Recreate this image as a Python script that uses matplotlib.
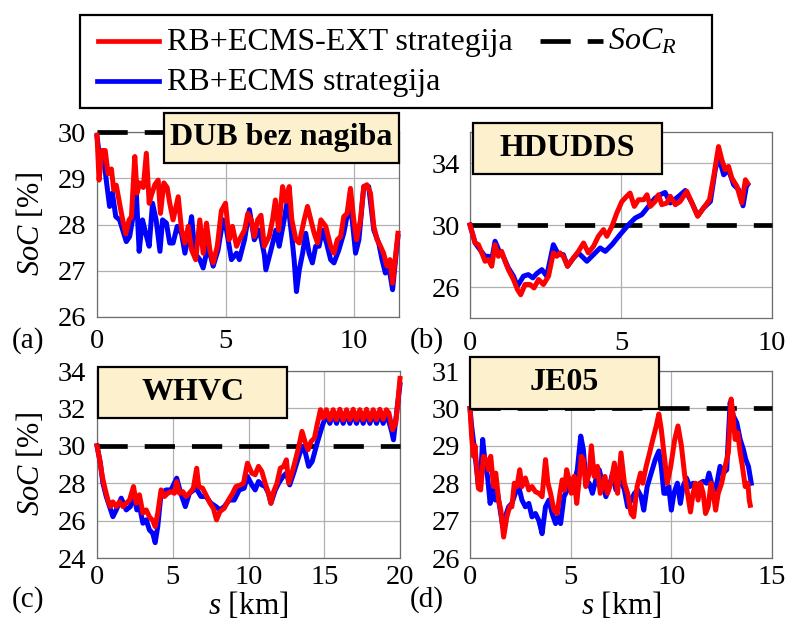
import matplotlib
matplotlib.use("Agg")
import matplotlib.pyplot as plt
from matplotlib.patches import Rectangle
from matplotlib.lines import Line2D

plt.rcParams["font.family"] = "Liberation Serif"
plt.rcParams["mathtext.fontset"] = "custom"
plt.rcParams["mathtext.rm"] = "Liberation Serif"
plt.rcParams["mathtext.it"] = "Liberation Serif:italic"
plt.rcParams["mathtext.bf"] = "Liberation Serif:bold"

# ---- data (s in km, SoC in %) ----
soc_ref = 30

# (a) DUB bez nagiba
dub_s_ext = [0, 0.08, 0.2, 0.32, 0.43, 0.56, 0.65, 0.75, 0.88, 1.0, 1.12, 1.25, 1.34, 1.47, 1.56,
             1.66, 1.8, 1.92, 2.03, 2.12, 2.25, 2.38, 2.47, 2.6, 2.73, 2.83, 2.96, 3.16, 3.29, 3.42,
             3.55, 3.68, 3.84, 4.0, 4.13, 4.26, 4.39, 4.52, 4.68, 4.84, 5.0, 5.14, 5.27, 5.43, 5.54,
             5.74, 5.87, 6.0, 6.12, 6.25, 6.38, 6.51, 6.7, 6.83, 6.94, 7.07, 7.22, 7.35, 7.48, 7.58,
             7.74, 7.87, 8.06, 8.19, 8.32, 8.45, 8.58, 8.71, 8.9, 9.09, 9.22, 9.35, 9.48, 9.6, 9.73,
             9.86, 9.99, 10.1, 10.25, 10.38, 10.5, 10.64, 10.77, 10.9, 11.03, 11.15, 11.28, 11.4,
             11.5, 11.6, 11.71]
dub_soc_ext = [29.93, 28.96, 29.6, 29.6, 29.1, 29.2, 28.75, 28.85, 28.45, 28.1, 27.8, 28.1, 28.17,
               29.47, 28.68, 28.9, 28.8, 29.54, 28.46, 28.64, 28.86, 28.96, 28.24, 28.9, 28.8, 28.46,
               28.1, 28.6, 27.88, 27.6, 27.96, 27.45, 27.24, 28.1, 27.38, 28.03, 27.45, 27.17, 27.53,
               28.3, 28.46, 27.67, 27.96, 27.53, 27.67, 27.88, 28.24, 28.1, 27.74, 28.1, 28.2, 27.53,
               27.74, 28.1, 28.53, 27.88, 28.82, 28.5, 28.82, 28.1, 27.67, 27.6, 28.1, 28.39, 28.1,
               27.81, 27.6, 28.1, 27.96, 27.53, 27.38, 27.67, 27.74, 28.17, 28.24, 28.78, 28.1, 27.67,
               28.1, 28.82, 28.86, 28.68, 27.96, 27.67, 27.53, 27.38, 27.1, 27.24, 26.73, 27.24, 27.81]
dub_s = [0, 0.1, 0.23, 0.36, 0.49, 0.6, 0.73, 0.88, 1.0, 1.14, 1.27, 1.4, 1.53, 1.64, 1.77, 1.9,
         2.03, 2.16, 2.3, 2.45, 2.55, 2.7, 2.83, 2.96, 3.12, 3.29, 3.42, 3.58, 3.68, 3.81, 4.0, 4.13,
         4.32, 4.52, 4.71, 4.9, 5.04, 5.23, 5.43, 5.54, 5.74, 5.93, 6.12, 6.32, 6.51, 6.57, 6.77,
         6.96, 7.09, 7.28, 7.41, 7.58, 7.67, 7.76, 7.87, 8.0, 8.12, 8.25, 8.38, 8.51, 8.64, 8.77,
         8.93, 9.09, 9.22, 9.41, 9.6, 9.8, 9.93, 10.06, 10.19, 10.38, 10.57, 10.77, 10.96, 11.09,
         11.22, 11.35, 11.5, 11.64, 11.71]
dub_soc = [29.9, 29.47, 29.6, 28.96, 28.39, 28.68, 28.17, 28.1, 27.88, 27.63, 27.74, 28.17, 28.68,
           27.42, 28.1, 27.8, 27.53, 28.46, 28.1, 27.42, 28.1, 28.03, 27.6, 27.6, 27.96, 27.8, 27.38,
           27.8, 28.17, 27.38, 27.24, 27.06, 27.53, 27.1, 27.45, 28.1, 27.88, 27.24, 27.38, 27.24,
           27.67, 28.32, 27.67, 27.88, 27.35, 27.02, 27.45, 27.88, 27.53, 28.1, 28.53, 27.74, 27.24,
           26.55, 27.02, 27.38, 27.81, 27.38, 27.17, 27.53, 27.53, 27.88, 27.6, 27.24, 27.17, 27.45,
           27.81, 28.39, 28.1, 27.38, 27.67, 28.82, 28.82, 27.88, 27.6, 27.24, 26.95, 27.1, 26.59,
           27.38, 27.74]

# (b) HDUDDS
hdu_s_ext = [0, 0.17, 0.28, 0.39, 0.5, 0.61, 0.72, 0.83, 0.94, 1.05, 1.16, 1.27, 1.44, 1.57, 1.68,
             1.82, 1.99, 2.12, 2.27, 2.43, 2.6, 2.76, 2.87, 2.98, 3.09, 3.23, 3.43, 3.59, 3.76, 3.92,
             4.09, 4.25, 4.42, 4.53, 4.7, 4.86, 5.03, 5.19, 5.3, 5.44, 5.58, 5.75, 5.86, 5.97, 6.13,
             6.24, 6.35, 6.52, 6.63, 6.8, 6.96, 7.18, 7.35, 7.54, 7.73, 7.93, 8.07, 8.23, 8.34, 8.45,
             8.56, 8.67, 8.84, 9.0, 9.12, 9.19]
hdu_soc_ext = [30, 28.84, 28.73, 28.2, 27.66, 27.77, 27.34, 28.73, 27.98, 28.3, 27.66, 27.12, 26.48,
               25.84, 25.5, 26.16, 26.16, 25.94, 26.48, 26.16, 26.7, 28.2, 27.98, 28.2, 27.98, 27.34,
               27.88, 28.3, 28.84, 28.2, 28.63, 29.27, 29.7, 29.27, 29.91, 30.77, 31.52, 31.85, 32.06,
               31.2, 31.63, 31.63, 31.95, 31.2, 31.52, 31.95, 31.31, 31.42, 31.85, 31.31, 31.52, 32.17,
               31.42, 30.56, 31.09, 31.63, 33.13, 35.06, 34.2, 33.56, 33.78, 33.03, 32.49, 31.42,
               32.92, 32.7]
hdu_s = [0, 0.17, 0.33, 0.5, 0.61, 0.72, 0.83, 0.97, 1.1, 1.27, 1.44, 1.57, 1.77, 1.93, 2.08, 2.21,
         2.38, 2.54, 2.76, 2.93, 3.09, 3.23, 3.43, 3.59, 3.87, 4.09, 4.31, 4.48, 4.7, 4.97, 5.25,
         5.47, 5.69, 5.91, 6.13, 6.3, 6.46, 6.63, 6.91, 7.13, 7.35, 7.54, 7.73, 7.96, 8.12, 8.23,
         8.4, 8.56, 8.73, 8.9, 9.04, 9.15, 9.19]
hdu_soc = [30, 28.84, 28.41, 27.98, 27.98, 27.77, 28.95, 28.3, 27.98, 27.23, 26.7, 26.05, 26.7, 26.8,
           26.59, 26.87, 27.12, 26.7, 28.73, 28.09, 28.09, 27.34, 27.88, 28.2, 27.66, 28.09, 28.52,
           28.3, 28.73, 29.38, 30.02, 30.45, 30.67, 31.2, 31.74, 31.95, 32.1, 31.42, 31.85, 32.23,
           31.42, 30.6, 31.09, 31.52, 33.56, 34.42, 33.24, 33.56, 32.6, 32.27, 31.24, 32.49, 32.6]

# (c) WHVC
whv_s_ext = [0, 0.18, 0.35, 0.5, 0.72, 0.88, 1.05, 1.27, 1.49, 1.71, 1.93, 2.15, 2.41, 2.59, 2.8,
             3.03, 3.25, 3.46, 3.68, 3.84, 4.01, 4.23, 4.45, 4.67, 4.89, 5.11, 5.26, 5.44, 5.66,
             5.88, 6.1, 6.36, 6.58, 6.71, 6.97, 7.19, 7.46, 7.68, 7.89, 8.11, 8.4, 8.68, 8.95, 9.17,
             9.45, 9.67, 9.93, 10.22, 10.44, 10.66, 10.88, 11.1, 11.32, 11.48, 11.66, 11.88, 12.1,
             12.32, 12.5, 12.65, 12.87, 13.1, 13.32, 13.53, 13.76, 13.93, 14.13, 14.35, 14.53, 14.75,
             14.92, 15.14, 15.37, 15.59, 15.81, 16.03, 16.25, 16.47, 16.69, 16.91, 17.13, 17.35,
             17.57, 17.79, 18.01, 18.23, 18.45, 18.67, 18.89, 19.1, 19.27, 19.5, 19.72, 19.87, 20.0]
whv_soc_ext = [30, 29.25, 28.36, 27.8, 27.1, 26.75, 27.0, 26.75, 27.0, 26.75, 26.93, 27.1, 27.82,
               26.93, 27.38, 26.4, 26.57, 26.2, 26.0, 25.68, 26.4, 27.64, 27.29, 27.46, 27.55, 27.46,
               28.09, 27.46, 27.55, 27.29, 27.46, 27.73, 28.8, 27.82, 27.73, 27.38, 26.93, 26.66,
               26.04, 26.48, 26.66, 27.1, 27.46, 27.82, 27.9, 28.0, 29.07, 28.54, 28.45, 28.9, 28.63,
               28.0, 27.46, 26.93, 27.55, 28.0, 28.8, 28.9, 29.25, 28.0, 28.54, 29.25, 29.96, 30.77,
               30.14, 29.79, 30.23, 30.41, 31.12, 31.93, 31.48, 31.93, 31.39, 31.93, 31.4, 31.95,
               31.38, 31.93, 31.4, 31.95, 31.39, 31.93, 31.4, 31.95, 31.38, 31.93, 31.4, 31.95, 31.42,
               31.93, 31.75, 30.86, 31.21, 32.46, 33.6]
whv_s = [0, 0.22, 0.39, 0.61, 0.83, 1.05, 1.27, 1.6, 1.93, 2.2, 2.41, 2.63, 2.81, 3.03, 3.25, 3.46,
         3.68, 3.84, 4.01, 4.23, 4.56, 4.89, 5.26, 5.53, 5.83, 6.1, 6.54, 6.86, 7.19, 7.52, 7.85,
         8.11, 8.4, 8.73, 9.06, 9.39, 9.71, 9.93, 10.22, 10.44, 10.66, 10.88, 11.1, 11.32, 11.48,
         11.77, 11.99, 12.28, 12.5, 12.72, 12.98, 13.25, 13.53, 13.76, 13.97, 14.2, 14.53, 14.86,
         15.14, 15.37, 15.59, 15.81, 16.03, 16.25, 16.47, 16.69, 16.91, 17.13, 17.35, 17.57, 17.79,
         18.01, 18.23, 18.45, 18.67, 18.89, 19.1, 19.3, 19.45, 19.57, 19.72, 20.0]
whv_soc = [30, 29.07, 28.0, 27.29, 26.75, 26.21, 26.57, 27.2, 26.57, 26.75, 27.46, 26.57, 26.75,
           25.86, 26.04, 25.5, 25.32, 24.82, 25.68, 27.46, 27.64, 27.64, 28.27, 27.46, 26.75, 27.46,
           27.73, 27.29, 27.29, 26.93, 26.75, 26.57, 26.75, 27.1, 27.1, 27.64, 27.73, 28.36, 27.91,
           27.64, 28.09, 27.91, 27.82, 27.46, 26.93, 27.64, 28.0, 28.36, 28.54, 27.91, 28.54, 29.25,
           29.96, 29.61, 28.9, 29.16, 30.14, 31.04, 31.66, 31.2, 31.75, 31.2, 31.75, 31.2, 31.75,
           31.2, 31.75, 31.2, 31.75, 31.2, 31.75, 31.2, 31.75, 31.2, 31.75, 31.2, 31.72, 31.2,
           30.77, 30.32, 31.39, 33.27]

# (d) JE05
je_s_ext = [0, 0.08, 0.17, 0.25, 0.33, 0.42, 0.53, 0.67, 0.8, 0.92, 1.03, 1.17, 1.28, 1.42, 1.53,
            1.67, 1.83, 1.97, 2.08, 2.2, 2.33, 2.47, 2.58, 2.75, 2.92, 3.08, 3.25, 3.42, 3.58, 3.75,
            3.87, 4.0, 4.17, 4.33, 4.47, 4.58, 4.7, 4.8, 4.92, 5.03, 5.17, 5.3, 5.42, 5.53, 5.63,
            5.75, 5.92, 6.03, 6.17, 6.33, 6.47, 6.58, 6.7, 6.83, 7.0, 7.17, 7.33, 7.5, 7.67, 7.83,
            8.0, 8.13, 8.3, 8.47, 8.58, 8.75, 8.92, 9.08, 9.25, 9.38, 9.5, 9.67, 9.8, 9.97, 10.17,
            10.33, 10.5, 10.67, 10.83, 10.95, 11.08, 11.2, 11.33, 11.45, 11.58, 11.7, 11.83, 11.97,
            12.08, 12.2, 12.33, 12.5, 12.67, 12.83, 12.97, 13.05, 13.17, 13.3, 13.42, 13.53, 13.67,
            13.8, 13.87, 13.92]
je_soc_ext = [30, 29.26, 28.72, 29.0, 28.45, 27.86, 27.82, 28.72, 28.63, 28.36, 28.72, 27.91, 28.27,
              27.55, 27.28, 26.56, 27.1, 27.37, 27.37, 28.0, 27.91, 28.36, 27.91, 28.14, 27.82, 27.91,
              27.77, 27.73, 27.64, 28.63, 28.0, 27.73, 27.28, 27.19, 27.73, 28.09, 27.82, 28.36,
              28.09, 27.73, 28.18, 27.46, 28.09, 28.72, 28.63, 27.91, 28.27, 29.0, 28.18, 28.45,
              27.73, 27.91, 28.18, 27.73, 28.0, 28.54, 27.73, 28.81, 28.0, 27.73, 27.19, 27.1, 27.91,
              28.27, 28.0, 28.45, 28.81, 29.17, 29.53, 29.85, 29.44, 28.63, 28.0, 28.45, 29.17, 29.53,
              29.0, 28.18, 27.64, 27.23, 27.73, 28.0, 27.55, 28.0, 27.73, 27.19, 27.37, 28.0, 27.73,
              27.28, 27.73, 28.0, 28.45, 28.81, 30.25, 29.9, 29.17, 29.35, 28.81, 28.45, 27.91, 28.0,
              27.55, 27.41]
je_s = [0, 0.08, 0.2, 0.33, 0.42, 0.5, 0.63, 0.75, 0.87, 1.0, 1.12, 1.25, 1.37, 1.5, 1.63, 1.75,
        1.92, 2.08, 2.25, 2.42, 2.58, 2.75, 2.92, 3.08, 3.25, 3.42, 3.58, 3.75, 3.92, 4.08, 4.25,
        4.37, 4.5, 4.67, 4.83, 5.0, 5.17, 5.33, 5.5, 5.63, 5.75, 5.92, 6.08, 6.25, 6.42, 6.58, 6.75,
        6.92, 7.08, 7.25, 7.33, 7.5, 7.67, 7.83, 8.0, 8.17, 8.33, 8.5, 8.63, 8.8, 9.0, 9.2, 9.38,
        9.5, 9.63, 9.75, 9.87, 10.0, 10.13, 10.3, 10.45, 10.58, 10.75, 10.92, 11.08, 11.25, 11.42,
        11.58, 11.75, 11.87, 12.0, 12.2, 12.42, 12.58, 12.75, 12.92, 13.08, 13.25, 13.42, 13.58,
        13.7, 13.83, 13.97]
je_soc = [30, 29.53, 29.0, 28.36, 27.91, 27.91, 29.17, 28.54, 28.18, 27.46, 27.91, 27.55, 27.73,
          27.28, 26.83, 27.1, 27.37, 27.46, 27.73, 27.91, 27.55, 27.37, 27.46, 27.1, 27.19, 27.0,
          26.65, 27.37, 27.55, 27.19, 26.92, 27.1, 26.92, 27.64, 27.82, 28.09, 28.0, 28.36, 29.26,
          28.9, 28.09, 28.0, 27.73, 28.09, 28.36, 28.0, 27.64, 27.91, 28.27, 27.82, 27.91, 28.09,
          27.82, 27.37, 27.55, 27.73, 27.82, 27.64, 27.28, 27.91, 28.27, 28.63, 28.86, 28.45, 27.73,
          27.73, 27.91, 27.28, 27.73, 28.0, 27.46, 27.91, 28.14, 27.91, 28.0, 27.91, 28.0, 28.05,
          28.0, 28.27, 28.0, 27.82, 28.45, 28.27, 28.36, 30.16, 29.8, 29.62, 29.17, 28.9, 28.63,
          28.45, 28.0]

panels = [
    # key, s_ext, soc_ext, s, soc, xlim, ylim, xticks, yticks, title
    ("a", dub_s_ext, dub_soc_ext, dub_s, dub_soc, (0, 11.75), (26, 30), [0, 5, 10], [26, 27, 28, 29, 30], "DUB bez nagiba"),
    ("b", hdu_s_ext, hdu_soc_ext, hdu_s, hdu_soc, (0, 10), (24, 36), [0, 5, 10], [26, 30, 34], "HDUDDS"),
    ("c", whv_s_ext, whv_soc_ext, whv_s, whv_soc, (0, 20), (24, 34), [0, 5, 10, 15, 20], [24, 26, 28, 30, 32, 34], "WHVC"),
    ("d", je_s_ext, je_soc_ext, je_s, je_soc, (0, 15), (26, 31), [0, 5, 10, 15], [26, 27, 28, 29, 30, 31], "JE05"),
]

W, H = 787, 626


def fig_rect(left, top, right, bottom):
    return [left / W, 1 - bottom / H, (right - left) / W, (bottom - top) / H]


axes_px = {"a": (97, 132, 399, 317), "b": (470, 132, 772, 318),
           "c": (97, 371, 400, 558), "d": (470, 371, 772, 558)}
title_px = {"a": (164, 113, 399, 163), "b": (473, 123, 662, 174),
            "c": (98, 367, 287, 418), "d": (470, 357, 659, 409)}
letter_px = {"a": (28, 341), "b": (427, 341), "c": (28, 600), "d": (427, 600)}

red = "#ff0000"
blue = "#0000ff"
lw = 3.6
dash = (0, (6.4, 3.6))

fig = plt.figure(figsize=(W / 100, H / 100), dpi=100)

for key, s_ext, soc_ext, s, soc, xlim, ylim, xt, yt, title in panels:
    ax = fig.add_axes(fig_rect(*axes_px[key]))
    ax.axhline(soc_ref, color="k", lw=3.4, linestyle=dash, clip_on=False, zorder=3)
    ax.plot(s, soc, color=blue, lw=lw, clip_on=False, zorder=4)
    ax.plot(s_ext, soc_ext, color=red, lw=lw, clip_on=False, zorder=5)
    ax.set_xlim(*xlim)
    ax.set_ylim(*ylim)
    ax.set_xticks(xt)
    ax.set_yticks(yt)
    ax.grid(True, color="#b0b0b0", lw=0.9)
    ax.set_axisbelow(True)
    for sp in ax.spines.values():
        sp.set_color("#6e6e6e")
        sp.set_linewidth(0.9)
    top_row = key in ("a", "b")
    ax.tick_params(axis="both", length=0, labelsize=20.5)
    ax.tick_params(axis="x", pad=9 if top_row else 5)
    ax.tick_params(axis="y", pad=8 if key in ("a", "c") else 7)
    if key in ("a", "c"):
        ax.set_ylabel(r"$SoC$ [%]", fontsize=22)
        ax.yaxis.label.set(va="center", ha="center", rotation_mode="default")
        ax.yaxis.set_label_coords(-0.221, 0.5)
    if key in ("c", "d"):
        ax.set_xlabel(r"$s$ [km]", fontsize=22.5)
        ax.xaxis.label.set(va="center")
        ax.xaxis.set_label_coords(0.5, -0.256)

    l, t, r, b = title_px[key]
    fig.add_artist(Rectangle((l / W, 1 - b / H), (r - l) / W, (b - t) / H,
                             transform=fig.transFigure, facecolor="#fdf0cd",
                             edgecolor="k", lw=1.6, zorder=6))
    fig.text((l + r) / 2 / W, 1 - (t + b) / 2 / H, title, ha="center", va="center",
             fontsize=23, fontweight="bold", zorder=7)
    lx, ly = letter_px[key]
    fig.text(lx / W, 1 - ly / H, f"({key})", ha="center", va="center", fontsize=21)

# legend box drawn in figure pixels
fig.add_artist(Rectangle((80 / W, 1 - 108 / H), 632 / W, 93 / H, transform=fig.transFigure,
                         facecolor="white", edgecolor="k", lw=1.6, zorder=6))
leg_items = [
    (red, "-", 98, 159, 41, 167, 50, "RB+ECMS-EXT strategija"),
    (blue, "-", 97, 159, 81, 167, 90, "RB+ECMS strategija"),
    ("k", dash, 540, 603, 41, 608, 50, r"$SoC_R$"),
]
for c, ls, x0, x1, yl, xt_, yb, label in leg_items:
    fig.add_artist(Line2D([x0 / W, x1 / W], [1 - yl / H, 1 - yl / H], color=c,
                          lw=3.4, linestyle=ls, transform=fig.transFigure, zorder=7))
    fig.text(xt_ / W, 1 - yb / H, label, ha="left", va="baseline", fontsize=23, zorder=7)

fig.savefig("out.png", dpi=100)
